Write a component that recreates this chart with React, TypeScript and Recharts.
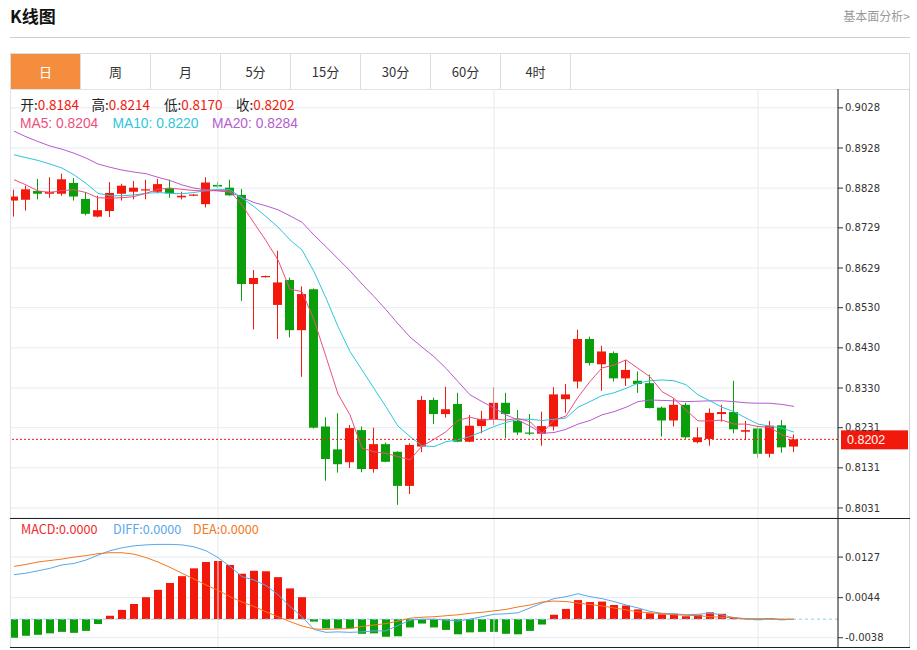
import React from 'react'
import {
  Bar,
  CartesianGrid,
  Cell,
  ComposedChart,
  Line,
  ReferenceLine,
  XAxis,
  YAxis
} from 'recharts'

const UP = '#f2190c'
const DOWN = '#0a9f0a'
const GRID = '#e4ebf1'
const MA5_COLOR = '#ee4f7c'
const MA10_COLOR = '#2dc6dc'
const MA20_COLOR = '#b65ccf'
const DIFF_COLOR = '#58a8ec'
const DEA_COLOR = '#f5781e'
const CJK = '"Noto Sans CJK SC", "Noto Sans", sans-serif'
const LATIN = '"Liberation Sans", Arial, sans-serif'

// daily candles, oldest first
const OPEN = [
  0.8797, 0.8799, 0.8821, 0.8814, 0.8814, 0.8841, 0.8801, 0.8757, 0.8771, 0.8814,
  0.8819, 0.8822, 0.8819, 0.8828, 0.8805, 0.8809, 0.8788, 0.8836, 0.8829, 0.8811,
  0.8589, 0.8606, 0.8537, 0.8599, 0.8474, 0.8576, 0.8234, 0.8177, 0.8145, 0.8225,
  0.8128, 0.8190, 0.8171, 0.8086, 0.8184, 0.8300, 0.8265, 0.8290, 0.8196, 0.8235,
  0.8252, 0.8293, 0.8248, 0.8219, 0.8216, 0.8234, 0.8302, 0.8346, 0.8452, 0.8389,
  0.8417, 0.8354, 0.8348, 0.8342, 0.8281, 0.8249, 0.8288, 0.8195, 0.8203, 0.8265,
  0.8270, 0.8221, 0.8229, 0.8166, 0.8237, 0.8184
]
const HIGH = [
  0.8824, 0.8834, 0.8851, 0.8855, 0.8864, 0.8853, 0.8818, 0.8809, 0.8843, 0.8839,
  0.8846, 0.8849, 0.8851, 0.8849, 0.8819, 0.8813, 0.8855, 0.8844, 0.8849, 0.8826,
  0.8624, 0.8610, 0.8672, 0.8605, 0.8583, 0.8578, 0.8257, 0.8267, 0.8238, 0.8234,
  0.8231, 0.8194, 0.8172, 0.8192, 0.8310, 0.8306, 0.8333, 0.8318, 0.8263, 0.8273,
  0.8332, 0.8318, 0.8275, 0.8265, 0.8271, 0.8332, 0.8340, 0.8475, 0.8458, 0.8435,
  0.8421, 0.8400, 0.8371, 0.8363, 0.8284, 0.8304, 0.8293, 0.8232, 0.8279, 0.8288,
  0.8348, 0.8248, 0.8234, 0.8248, 0.8250, 0.8214
]
const LOW = [
  0.8757, 0.8772, 0.8800, 0.8804, 0.8809, 0.8797, 0.8760, 0.8755, 0.8756, 0.8797,
  0.8800, 0.8800, 0.8815, 0.8804, 0.8800, 0.8808, 0.8780, 0.8829, 0.8809, 0.8547,
  0.8476, 0.8605, 0.8452, 0.8456, 0.8358, 0.8229, 0.8099, 0.8119, 0.8131, 0.8120,
  0.8119, 0.8145, 0.8039, 0.8066, 0.8170, 0.8240, 0.8256, 0.8195, 0.8195, 0.8217,
  0.8238, 0.8205, 0.8213, 0.8213, 0.8186, 0.8224, 0.8268, 0.8329, 0.8386, 0.8323,
  0.8346, 0.8335, 0.8318, 0.8279, 0.8209, 0.8234, 0.8203, 0.8192, 0.8186, 0.8246,
  0.8217, 0.8200, 0.8156, 0.8157, 0.8169, 0.8170
]
const CLOSE = [
  0.8807, 0.8825, 0.8814, 0.8819, 0.8850, 0.8807, 0.8764, 0.8773, 0.8816, 0.8834,
  0.8829, 0.8825, 0.8838, 0.8815, 0.8809, 0.8812, 0.8842, 0.8832, 0.8810, 0.8589,
  0.8604, 0.8609, 0.8593, 0.8474, 0.8564, 0.8231, 0.8153, 0.8140, 0.8230, 0.8128,
  0.8190, 0.8146, 0.8086, 0.8188, 0.8300, 0.8265, 0.8277, 0.8196, 0.8236, 0.8253,
  0.8293, 0.8265, 0.8219, 0.8216, 0.8235, 0.8314, 0.8314, 0.8452, 0.8392, 0.8421,
  0.8354, 0.8375, 0.8340, 0.8280, 0.8249, 0.8288, 0.8207, 0.8207, 0.8268, 0.8270,
  0.8227, 0.8225, 0.8166, 0.8236, 0.8182, 0.8202
]

const MA5 = [
  0.8849, 0.8836, 0.8821, 0.8817, 0.8822, 0.8824, 0.8817, 0.8804, 0.8803, 0.8804,
  0.8807, 0.8815, 0.8825, 0.8828, 0.8825, 0.8822, 0.8821, 0.8822, 0.8821, 0.8786,
  0.8741, 0.8697, 0.8649, 0.8576, 0.8570, 0.8500, 0.8408, 0.8315, 0.8263, 0.8180,
  0.8171, 0.8167, 0.8159, 0.8151, 0.8185, 0.8202, 0.8221, 0.8249, 0.8257, 0.8250,
  0.8252, 0.8250, 0.8254, 0.8246, 0.8217, 0.8250, 0.8260, 0.8307, 0.8346, 0.8380,
  0.8387, 0.8400, 0.8379, 0.8358, 0.8321, 0.8304, 0.8275, 0.8248, 0.8248, 0.8250,
  0.8240, 0.8240, 0.8234, 0.8232, 0.8213, 0.8204
]
const MA10 = [
  0.8911, 0.8904, 0.8897, 0.8888, 0.8878, 0.8861, 0.8840, 0.8815, 0.8809, 0.8809,
  0.8811, 0.8815, 0.8817, 0.8815, 0.8814, 0.8817, 0.8822, 0.8825, 0.8824, 0.8803,
  0.8782, 0.8757, 0.8731, 0.8699, 0.8674, 0.8620, 0.8554, 0.8483, 0.8421, 0.8375,
  0.8329, 0.8283, 0.8235, 0.8209, 0.8186, 0.8184, 0.8196, 0.8201, 0.8209, 0.8221,
  0.8234, 0.8244, 0.8252, 0.8252, 0.8249, 0.8252, 0.8255, 0.8282, 0.8296, 0.8311,
  0.8318, 0.8329, 0.8342, 0.8348, 0.8350, 0.8348, 0.8338, 0.8313, 0.8298, 0.8282,
  0.8271, 0.8255, 0.8240, 0.8235, 0.8230, 0.8220
]
const MA20 = [
  0.8970, 0.8956, 0.8944, 0.8933, 0.8925, 0.8915, 0.8903, 0.8888, 0.8880, 0.8873,
  0.8868, 0.8864, 0.8855, 0.8847, 0.8836, 0.8828, 0.8824, 0.8821, 0.8818, 0.8805,
  0.8792, 0.8784, 0.8774, 0.8759, 0.8743, 0.8711, 0.8682, 0.8652, 0.8622, 0.8589,
  0.8558, 0.8525, 0.8490, 0.8457, 0.8432, 0.8408, 0.8379, 0.8346, 0.8313, 0.8296,
  0.8280, 0.8263, 0.8250, 0.8235, 0.8217, 0.8219, 0.8227, 0.8240, 0.8249, 0.8263,
  0.8271, 0.8282, 0.8296, 0.8300, 0.8299, 0.8298, 0.8296, 0.8297, 0.8298, 0.8298,
  0.8296, 0.8293, 0.8292, 0.8292, 0.8289, 0.8284
]

const MACD = [
  -0.0038, -0.0034, -0.0032, -0.0029, -0.0026, -0.0028, -0.0024, -0.001, 0.0007, 0.0019,
  0.0031, 0.0045, 0.006, 0.0074, 0.0088, 0.0104, 0.0117, 0.0119, 0.0111, 0.0093,
  0.0099, 0.0098, 0.0086, 0.0063, 0.0045, -0.0005, -0.0019, -0.0019, -0.0019, -0.003,
  -0.0029, -0.0036, -0.0035, -0.0017, -0.0009, -0.0017, -0.0022, -0.0031, -0.0027, -0.0026,
  -0.0026, -0.003, -0.0031, -0.0024, -0.0011, 0.0009, 0.0021, 0.0039, 0.0035, 0.0036,
  0.0029, 0.0028, 0.002, 0.0012, 0.001, 0.0011, 0.0006, 0.0009, 0.0014, 0.0011,
  0.0003, 0.0001, -0.0002, 0.0002, -0.0002, 0
]
const DIFF = [
  0.0091, 0.0094, 0.0099, 0.0104, 0.0111, 0.0114, 0.0121, 0.0131, 0.014, 0.0146,
  0.015, 0.0152, 0.0153, 0.0153, 0.0152, 0.0148, 0.014, 0.0126, 0.0108, 0.0087,
  0.008, 0.0069, 0.005, 0.0026, 0.0005, -0.0021, -0.0027, -0.0026, -0.0027, -0.0026,
  -0.0024, -0.0024, -0.0013, -0.0002, 0, 0, -0.0002, -0.0004, 0, 0.0005,
  0.001, 0.0011, 0.0013, 0.0023, 0.0033, 0.0042, 0.0046, 0.0052, 0.0046, 0.0042,
  0.0036, 0.0029, 0.0023, 0.0016, 0.0012, 0.0011, 0.0009, 0.001, 0.0012, 0.0009,
  0.0003, 0, -0.0001, 0, -0.0001, 0
]
const DEA = [
  0.0108, 0.0112, 0.0117, 0.012, 0.0123, 0.0127, 0.013, 0.0134, 0.0136, 0.0136,
  0.0133, 0.0126, 0.0117, 0.0106, 0.0094, 0.0082, 0.007, 0.0059, 0.0046, 0.0035,
  0.0026, 0.0015, 0.0005, -0.0005, -0.0014, -0.002, -0.0021, -0.002, -0.0019, -0.0015,
  -0.0012, -0.0009, -0.0004, 0.0002, 0.0004, 0.0005, 0.0007, 0.0009, 0.0012, 0.0014,
  0.0017, 0.002, 0.0025, 0.0029, 0.0035, 0.0037, 0.0036, 0.0033, 0.003, 0.0027,
  0.0023, 0.0019, 0.0015, 0.0013, 0.0011, 0.0009, 0.0008, 0.0007, 0.0005, 0.0004,
  0.0003, 0.0001, 0.0001, 0.0001, 0, 0
]

const PRICE_TICKS = [0.8031, 0.8131, 0.8231, 0.833, 0.843, 0.853, 0.8629, 0.8729, 0.8828, 0.8928, 0.9028]
const MACD_TICKS = [-0.0038, 0.0044, 0.0127]
// candles where a new month starts (vertical grid lines)
const MONTH_STARTS = [17, 40, 62]
const TABS = ['日', '周', '月', '5分', '15分', '30分', '60分', '4时']

const LAST = OPEN.length - 1
const rows = OPEN.map((open, i) => ({
  i,
  open,
  high: HIGH[i],
  low: LOW[i],
  close: CLOSE[i],
  ma5: MA5[i],
  ma10: MA10[i],
  ma20: MA20[i],
  macd: MACD[i],
  diff: DIFF[i],
  dea: DEA[i]
}))

const X_DOMAIN: [number, number] = [-0.25, 68.667]
const CHART_W = 917
const AXIS_W = 72
const MARGIN = { top: 0, right: CHART_W - 838 - AXIS_W, bottom: 0, left: 11 }
const TICK_STYLE = { fontSize: 10, fill: '#333', fontFamily: '"DejaVu Sans", sans-serif' }

function Candle(props: any) {
  const { x, y, width, height, payload } = props
  if (x == null || payload == null) return null
  const { open, close, high, low } = payload
  const color = close >= open ? UP : DOWN
  const top = Math.min(y, y + height)
  const h = Math.abs(height)
  const px = (v: number) => (high === low ? top : top + ((high - v) / (high - low)) * h)
  const bodyTop = px(Math.max(open, close))
  const bodyH = Math.max(px(Math.min(open, close)) - bodyTop, 1)
  const cx = Math.floor(x + width / 2) + 0.5
  return (
    <g>
      <line x1={cx} x2={cx} y1={top} y2={top + h} stroke={color} strokeWidth={1} />
      <rect x={x} y={bodyTop} width={width} height={bodyH} fill={color} />
    </g>
  )
}

function PriceTag(props: any) {
  const vb = props.viewBox
  if (!vb) return null
  const left = vb.x + vb.width + 3
  return (
    <g>
      <rect x={left} y={vb.y - 9} width={67} height={19} fill={UP} />
      <text
        x={left + 6}
        y={vb.y + 1}
        dominantBaseline="middle"
        fill="#fff"
        fontSize={12.5}
        fontFamily={LATIN}
      >
        {CLOSE[LAST].toFixed(4)}
      </text>
    </g>
  )
}

const abs = (left: number, top: number, extra: React.CSSProperties = {}): React.CSSProperties => ({
  position: 'absolute',
  left,
  top,
  ...extra
})

function Item({
  left,
  mid,
  size,
  font = CJK,
  children
}: {
  left: number
  mid: number
  size: number
  font?: string
  children: React.ReactNode
}) {
  return (
    <div style={abs(left, mid - 7, { fontSize: size, fontFamily: font, lineHeight: '14px', whiteSpace: 'nowrap' })}>
      {children}
    </div>
  )
}

export default function App() {
  const fmt = (v: number) => v.toFixed(4)
  const ohlc: Array<[string, number, number]> = [
    ['开', OPEN[LAST], 20.5],
    ['高', HIGH[LAST], 91.5],
    ['低', LOW[LAST], 164],
    ['收', CLOSE[LAST], 236]
  ]
  return (
    <div style={abs(0, 0, { width: 917, height: 650, background: '#fff', overflow: 'hidden' })}>
      <div style={abs(10, 5, { fontSize: 17, fontWeight: 'bold', fontFamily: CJK, color: '#111', lineHeight: '22px' })}>
        K线图
      </div>
      <div
        style={abs(0, 7, {
          width: 910,
          textAlign: 'right',
          fontSize: 12,
          fontFamily: CJK,
          color: '#999',
          lineHeight: '18px'
        })}
      >
        基本面分析&gt;
      </div>
      <div style={abs(10, 37, { width: 900, height: 1, background: '#cfcfcf' })} />

      <div
        style={abs(10, 53, {
          width: 900,
          height: 37,
          border: '1px solid #dcdcdc',
          boxSizing: 'border-box',
          display: 'flex'
        })}
      >
        {TABS.map((t, k) => (
          <div
            key={t}
            style={{
              width: 70,
              height: 35,
              boxSizing: 'border-box',
              borderRight: '1px solid #dcdcdc',
              background: k === 0 ? '#f48d3e' : '#fff',
              color: k === 0 ? '#fff' : '#333',
              fontSize: 13,
              fontFamily: CJK,
              textAlign: 'center',
              lineHeight: '35px'
            }}
          >
            {t}
          </div>
        ))}
      </div>

      {/* frame */}
      <div style={abs(10, 89, { width: 1, height: 559, background: '#dde3e8' })} />
      <div style={abs(909, 89, { width: 1, height: 559, background: '#d4d4d4' })} />

      <div style={abs(0, 89)}>
        <ComposedChart width={CHART_W} height={429} data={rows} margin={MARGIN}>
          <CartesianGrid stroke={GRID} vertical={false} />
          <XAxis type="number" dataKey="i" domain={X_DOMAIN} hide allowDataOverflow />
          <YAxis
            orientation="right"
            width={AXIS_W}
            domain={[0.8006, 0.9075]}
            ticks={PRICE_TICKS}
            tickFormatter={fmt}
            allowDataOverflow
            axisLine={{ stroke: '#111' }}
            tickLine={{ stroke: '#333' }}
            tickSize={5}
            tick={TICK_STYLE}
          />
          {MONTH_STARTS.map((m) => (
            <ReferenceLine key={m} x={m} stroke={GRID} />
          ))}
          <Bar
            dataKey={(d: any) => [d.low, d.high]}
            barSize={9}
            shape={<Candle />}
            isAnimationActive={false}
          />
          <Line type="linear" dataKey="ma20" stroke={MA20_COLOR} strokeWidth={1} dot={false} isAnimationActive={false} />
          <Line type="linear" dataKey="ma10" stroke={MA10_COLOR} strokeWidth={1} dot={false} isAnimationActive={false} />
          <Line type="linear" dataKey="ma5" stroke={MA5_COLOR} strokeWidth={1} dot={false} isAnimationActive={false} />
          <ReferenceLine y={CLOSE[LAST]} stroke={UP} strokeDasharray="2 2" label={<PriceTag />} />
        </ComposedChart>
      </div>

      <div style={abs(0, 518)}>
        <ComposedChart width={CHART_W} height={130} data={rows} margin={MARGIN}>
          <CartesianGrid stroke={GRID} vertical={false} />
          <XAxis type="number" dataKey="i" domain={X_DOMAIN} hide allowDataOverflow />
          <YAxis
            orientation="right"
            width={AXIS_W}
            domain={[-0.0059, 0.0207]}
            ticks={MACD_TICKS}
            tickFormatter={fmt}
            allowDataOverflow
            axisLine={{ stroke: '#111' }}
            tickLine={{ stroke: '#333' }}
            tickSize={5}
            tick={TICK_STYLE}
          />
          {MONTH_STARTS.map((m) => (
            <ReferenceLine key={m} x={m} stroke={GRID} />
          ))}
          <ReferenceLine y={0} stroke="#8fcdee" strokeDasharray="3 3" />
          <Bar dataKey="macd" barSize={8} isAnimationActive={false}>
            {rows.map((r) => (
              <Cell key={r.i} fill={r.macd >= 0 ? UP : DOWN} />
            ))}
          </Bar>
          <Line type="linear" dataKey="diff" stroke={DIFF_COLOR} strokeWidth={1} dot={false} isAnimationActive={false} />
          <Line type="linear" dataKey="dea" stroke={DEA_COLOR} strokeWidth={1} dot={false} isAnimationActive={false} />
        </ComposedChart>
      </div>

      <div style={abs(10, 518, { width: 900, height: 1, background: '#222' })} />
      <div style={abs(10, 647, { width: 900, height: 1, background: '#222' })} />

      {ohlc.map(([name, v, left]) => (
        <Item key={name} left={left} mid={104} size={13.5}>
          <span style={{ color: '#222' }}>{name}:</span>
          <span style={{ color: UP }}>{fmt(v)}</span>
        </Item>
      ))}
      <Item left={20} mid={124} size={13.8} font={LATIN}>
        <span style={{ color: MA5_COLOR }}>MA5: {fmt(MA5[LAST])}</span>
      </Item>
      <Item left={112.5} mid={124} size={13.8} font={LATIN}>
        <span style={{ color: MA10_COLOR }}>MA10: {fmt(MA10[LAST])}</span>
      </Item>
      <Item left={212} mid={124} size={13.8} font={LATIN}>
        <span style={{ color: MA20_COLOR }}>MA20: {fmt(MA20[LAST])}</span>
      </Item>
      <Item left={21} mid={529} size={12.6}>
        <span style={{ color: '#f0282a' }}>MACD:{fmt(MACD[LAST])}</span>
      </Item>
      <Item left={113} mid={529} size={12.6}>
        <span style={{ color: DIFF_COLOR }}>DIFF:{fmt(DIFF[LAST])}</span>
      </Item>
      <Item left={193} mid={529} size={12.6}>
        <span style={{ color: DEA_COLOR }}>DEA:{fmt(DEA[LAST])}</span>
      </Item>
    </div>
  )
}
